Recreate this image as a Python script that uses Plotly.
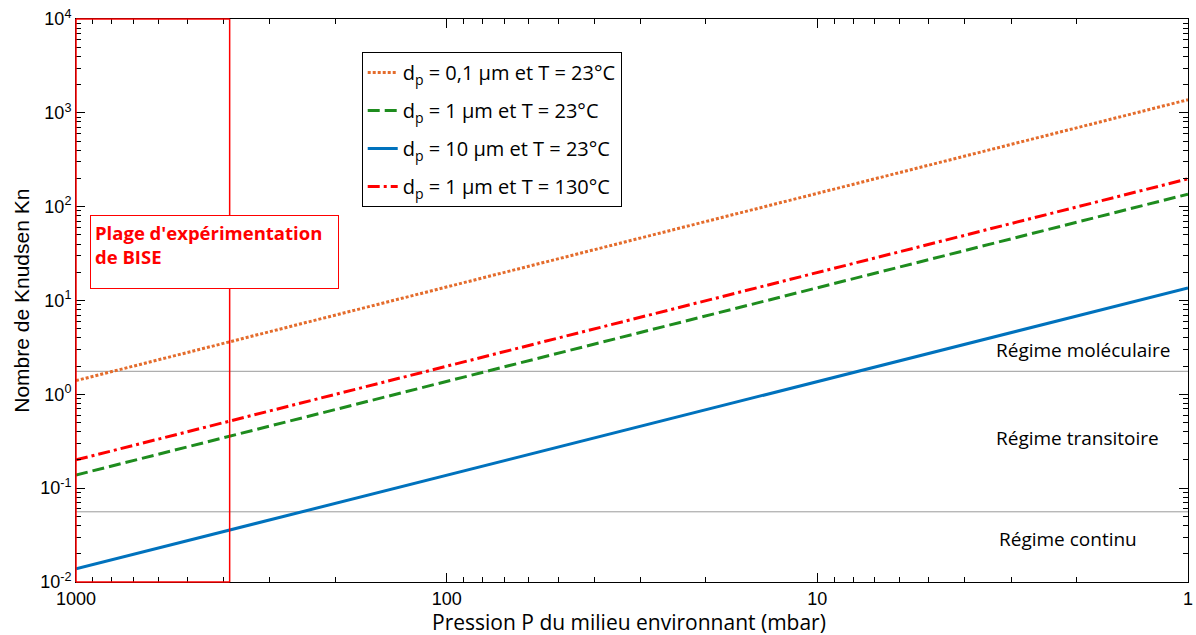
import plotly.graph_objects as go

# ---- data ----
pressure_mbar = [1000, 100, 10, 1]
kn_01um_23C = [1.4, 14, 140, 1380]
kn_1um_23C = [0.138, 1.38, 13.8, 136]
kn_10um_23C = [0.0138, 0.138, 1.38, 13.6]
kn_1um_130C = [0.2, 2.0, 20, 198]

series_names = [
    "d<sub>p</sub> = 0,1 µm et T = 23°C",
    "d<sub>p</sub> = 1 µm et T = 23°C",
    "d<sub>p</sub> = 10 µm et T = 23°C",
    "d<sub>p</sub> = 1 µm et T = 130°C",
]
series_values = [kn_01um_23C, kn_1um_23C, kn_10um_23C, kn_1um_130C]

regime_bounds = [1.76, 0.056]
regime_labels = ["Régime moléculaire", "Régime transitoire", "Régime continu"]
bise_range = [1000, 385]

x_tickvals = [1000, 100, 10, 1]
x_ticktext = ["1000", "100", "10", "1"]
y_tickvals = [1e-2, 1e-1, 1e0, 1e1, 1e2, 1e3, 1e4]
y_ticktext = ["10<sup>-2</sup>", "10<sup>-1</sup>", "10<sup>0</sup>", "10<sup>1</sup>",
              "10<sup>2</sup>", "10<sup>3</sup>", "10<sup>4</sup>"]
minor_mult = [2, 3, 4, 5, 6, 7, 8, 9]
x_minor = [m * 10 ** e for e in range(0, 3) for m in minor_mult]
y_minor = [m * 10.0 ** e for e in range(-2, 4) for m in minor_mult]

# ---- styles ----
colors = ["#E46C2C", "#1E8C1E", "#0072BD", "#FF0000"]
dashes = ["3px,2px", "12px,5px", "solid", "12px,4px,3px,4px"]

W, H = 1196, 635
ML, MR, MT, MB = 76, 3, 19, 53
PW, PH = W - ML - MR, H - MT - MB

def px2paper_x(px):
    return (px - ML) / PW

def px2paper_y(py):
    return (H - MB - py) / PH

HUM = "Open Sans"
ARIAL = "Liberation Sans, Arial"

fig = go.Figure()
for i, (name, vals) in enumerate(zip(series_names, series_values)):
    fig.add_trace(go.Scatter(
        x=pressure_mbar, y=vals, mode="lines", name=name,
        legendgroup=f"g{i}",
        line=dict(color=colors[i], width=3, dash=dashes[i]),
    ))

# regime boundaries
for b in regime_bounds:
    fig.add_shape(type="line", xref="paper", yref="y", x0=0, x1=1, y0=b, y1=b,
                  line=dict(color="#9a9a9a", width=1), layer="below")

# BISE experimental range box (edges drawn separately so none is clipped)
red = dict(color="#FF0000", width=1.5)
fig.add_shape(type="line", xref="paper", yref="paper", x0=0, x1=0, y0=0, y1=1,
              line=red, layer="above")
fig.add_shape(type="line", xref="x", yref="paper", x0=bise_range[1], x1=bise_range[1],
              y0=0, y1=1, line=red, layer="above")
for yy in (0, 1):
    fig.add_shape(type="line", xref="x", yref="paper", x0=bise_range[0], x1=bise_range[1],
                  y0=yy, y1=yy, line=red, layer="above")

# regime labels
for lbl, (lx, cy) in zip(regime_labels, [(998, 350), (998, 438), (1001, 539)]):
    fig.add_annotation(text=lbl, xref="paper", yref="paper",
                       x=px2paper_x(lx), y=px2paper_y(cy), showarrow=False,
                       xanchor="left", yanchor="middle",
                       font=dict(family=HUM, size=19, color="black"))

# BISE label
fig.add_annotation(text="<b>Plage d'expérimentation<br>de BISE</b>",
                   xref="paper", yref="paper",
                   x=px2paper_x(90), y=px2paper_y(215), xanchor="left", yanchor="top",
                   showarrow=False, align="left", valign="top",
                   width=239, height=64, borderpad=4, borderwidth=1,
                   bordercolor="#FF0000", bgcolor="white",
                   font=dict(family=HUM, size=18.5, color="#FF0000"))

# axis titles
fig.add_annotation(text="Nombre de Knudsen Kn", xref="paper", yref="paper",
                   x=px2paper_x(21), y=0.5, textangle=-90, showarrow=False,
                   xanchor="center", yanchor="middle",
                   font=dict(family=ARIAL, size=21, color="black"))
fig.add_annotation(text="Pression P du milieu environnant (mbar)", xref="paper", yref="paper",
                   x=px2paper_x(631), y=px2paper_y(622), showarrow=False,
                   xanchor="center", yanchor="middle",
                   font=dict(family=HUM, size=21, color="black"))

fig.update_layout(
    width=W, height=H,
    margin=dict(l=ML, r=MR, t=MT, b=MB),
    paper_bgcolor="white", plot_bgcolor="white",
    showlegend=True,
    legend=dict(x=px2paper_x(363), y=px2paper_y(52), xanchor="left", yanchor="top",
                bgcolor="white", bordercolor="black", borderwidth=1,
                font=dict(family=HUM, size=20, color="black"),
                tracegroupgap=9, itemwidth=30),
)
common = dict(type="log", ticks="inside", ticklen=9, tickcolor="black", showline=True,
              linecolor="black", linewidth=1, mirror="ticks", showgrid=False,
              zeroline=False, ticklabeloverflow="allow",
              tickfont=dict(family=ARIAL, size=18, color="black"))
fig.update_xaxes(range=[3, 0], tickvals=x_tickvals, ticktext=x_ticktext,
                 minor=dict(tickvals=x_minor, ticks="inside", ticklen=5,
                            tickcolor="black", showgrid=False), **common)
fig.update_yaxes(range=[-2, 4], tickvals=y_tickvals, ticktext=y_ticktext,
                 minor=dict(tickvals=y_minor, ticks="inside", ticklen=5,
                            tickcolor="black", showgrid=False), **common)

fig.write_html("out.html", config={"displayModeBar": False},
               post_script="document.body.style.margin='0';")
